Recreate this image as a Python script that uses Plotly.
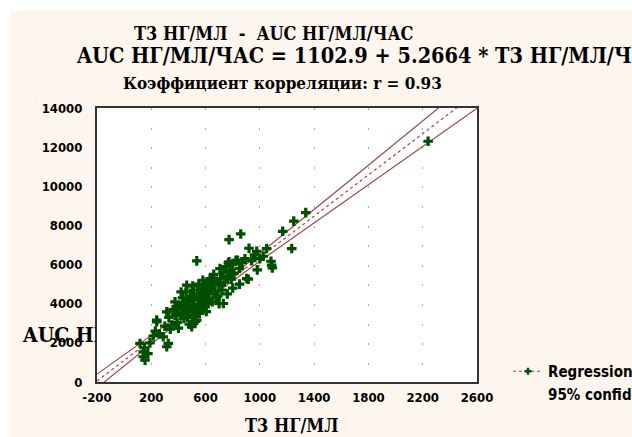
import numpy as np
import plotly.graph_objects as go

# ---------------- data ----------------
t3 = [154, 141, 141, 175, 117, 150, 190, 215, 240, 240, 230, 260, 288, 314, 300, 314,
      330, 350, 360, 375, 380, 390, 400, 410, 420, 430, 440, 450, 455, 461, 470, 475,
      480, 490, 498, 500, 505, 510, 515, 520, 525, 535, 535, 540, 545, 550, 555, 560,
      565, 570, 575, 580, 585, 590, 595, 600, 605, 608, 615, 620, 625, 633, 640, 645,
      650, 655, 660, 670, 680, 690, 700, 706, 710, 720, 730, 740, 750, 760, 768, 773,
      773, 780, 790, 800, 810, 824, 836, 850, 859, 870, 890, 915, 920, 940, 960, 977,
      981, 1000, 1025, 1050, 1082, 1092, 1168, 1235, 1250, 1338, 2240,
      325, 340, 420, 445, 465, 485, 530, 560, 590, 620, 650, 700, 731, 760, 800, 850,
      903, 1087, 395, 435, 505, 575, 610, 680]
auc = [1120, 1290, 1545, 1450, 1970, 1750, 2000, 2350, 3077, 3160, 2600, 2450, 2310, 1800, 2850, 3587,
       3300, 2900, 3700, 4096, 3400, 3050, 2750, 3900, 3500, 4300, 3250, 3800, 4600, 4947, 4100, 3600,
       2950, 4400, 2822, 3900, 3400, 4700, 4200, 3700, 3100, 6188, 3162, 4500, 3950, 5000, 3500, 4300,
       4800, 3800, 4100, 5200, 4550, 3900, 4300, 4700, 3600, 4896, 4200, 5100, 4500, 5287, 4800, 5287,
       4100, 4950, 5500, 4600, 5150, 4400, 5000, 5797, 5300, 4700, 5600, 5100, 5900, 5400, 6086, 6137,
       7276, 5700, 5250, 6000, 5550, 6222, 6222, 5800, 7564, 6100, 6300, 5253, 6834, 6200, 6500, 6681,
       5729, 6300, 6426, 6818, 6170, 5831, 7700, 6818, 8220, 8654, 12300,
       1970, 2700, 4600, 4000, 3300, 4250, 3600, 3950, 4650, 4000, 5200, 4000, 4011, 4500, 4800, 5000,
       5287, 5967, 3800, 3700, 4900, 4400, 5000, 4300]

INTERCEPT = 1102.9
SLOPE = 5.2664
R_VALUE = 0.93
T_CRIT = 1.98

x_ticks = [-200, 200, 600, 1000, 1400, 1800, 2200, 2600]
y_ticks = [0, 2000, 4000, 6000, 8000, 10000, 12000, 14000]

title1 = "Т3 НГ/МЛ  -  AUC НГ/МЛ/ЧАС"
title2 = "AUC НГ/МЛ/ЧАС = 1102.9 + 5.2664 * Т3 НГ/МЛ/Ч"
title3 = "Коэффициент корреляции: r = 0.93"
x_title = "Т3 НГ/МЛ"
y_title = "AUC НГ/МЛ/ЧАС"
legend_names = ["Regression", "95% confidence"]

# ---------------- regression & confidence band ----------------
xa = np.array(t3, float)
ya = np.array(auc, float)
n = len(xa)
resid = ya - (INTERCEPT + SLOPE * xa)
s = np.sqrt((resid ** 2).sum() / (n - 2))
xbar = xa.mean()
sxx = ((xa - xbar) ** 2).sum()
xg = np.linspace(x_ticks[0], x_ticks[-1], 400)
yfit = INTERCEPT + SLOPE * xg
hw = T_CRIT * s * np.sqrt(1.0 / n + (xg - xbar) ** 2 / sxx)

# ---------------- layout geometry ----------------
W, H = 632, 437
L, R, T, B = 97, 155, 108, 55
PW, PH = W - L - R, H - T - B
CREAM = "#FDF6EE"
GREEN = "#004f00"
BROWN = "#9a4848"
SERIF = "DejaVu Serif Condensed, DejaVu Serif, Liberation Serif, serif"
SANS = "Liberation Sans Narrow, DejaVu Sans Condensed, Liberation Sans, Arial, sans-serif"

def px(xp):
    return (xp - L) / PW

def py(yp):
    return (H - B - yp) / PH

fig = go.Figure()
fig.add_trace(go.Scatter(x=xg, y=yfit + hw, mode="lines", line=dict(color=BROWN, width=1.2),
                         showlegend=False, hoverinfo="skip"))
fig.add_trace(go.Scatter(x=xg, y=yfit - hw, mode="lines", line=dict(color=BROWN, width=1.2),
                         showlegend=False, hoverinfo="skip"))
fig.add_trace(go.Scatter(x=xg, y=yfit, mode="lines", line=dict(color=BROWN, width=1.2, dash="dot"),
                         showlegend=False, hoverinfo="skip"))
fig.add_trace(go.Scatter(x=t3, y=auc, mode="markers",
                         marker=dict(symbol="cross", size=8, color=GREEN, line=dict(width=0)),
                         showlegend=False))
# legend entries
fig.add_trace(go.Scatter(x=[None], y=[None], mode="lines+markers", name=legend_names[0],
                         marker=dict(symbol="cross", size=6, color=GREEN),
                         line=dict(color=BROWN, width=1.2, dash="dot")))
fig.add_trace(go.Scatter(x=[None], y=[None], mode="lines", name=legend_names[1],
                         line=dict(color="rgba(0,0,0,0)", width=1)))

shapes = [
    dict(type="rect", xref="paper", yref="paper", x0=px(0), x1=px(W), y0=py(11), y1=py(0),
         fillcolor="white", line=dict(width=0), layer="below"),
    dict(type="rect", xref="paper", yref="paper", x0=px(0), x1=px(10), y0=py(H), y1=py(0),
         fillcolor="white", line=dict(width=0), layer="below"),
]

def tf(size):
    return dict(family=SERIF, size=size, color="black", weight="bold")

annotations = [
    dict(text=title1, x=px(274), y=py(33), xref="paper", yref="paper", showarrow=False,
         xanchor="center", yanchor="middle", font=tf(18)),
    dict(text=title2, x=px(74), y=py(55), xref="paper", yref="paper", showarrow=False,
         xanchor="left", yanchor="middle", font=tf(21.5)),
    dict(text=title3, x=px(282), y=py(83), xref="paper", yref="paper", showarrow=False,
         xanchor="center", yanchor="middle", font=tf(17)),
    dict(text=x_title, x=px(292), y=py(425), xref="paper", yref="paper", showarrow=False,
         xanchor="center", yanchor="middle", font=tf(18)),
    dict(text=y_title, x=px(20), y=py(334), xref="paper", yref="paper", showarrow=False,
         xanchor="left", yanchor="middle", width=74, align="left", font=tf(21)),
]

fig.update_layout(
    width=W, height=H,
    margin=dict(l=L, r=R, t=T, b=B, pad=0, autoexpand=False),
    paper_bgcolor=CREAM, plot_bgcolor="white",
    shapes=shapes, annotations=annotations,
    showlegend=True,
    legend=dict(x=px(508), y=py(355), xanchor="left", yanchor="top",
                bgcolor="rgba(0,0,0,0)", font=dict(family=SANS, size=15, color="black", weight="bold"),
                itemwidth=30, tracegroupgap=0),
    xaxis=dict(range=[x_ticks[0], x_ticks[-1]], tickvals=x_ticks, ticktext=[str(v) for v in x_ticks],
               showgrid=True, gridcolor="#a8a8a8", griddash="2px,17.6px", gridwidth=1,
               zeroline=False, showline=True, linecolor="#333333", linewidth=2, mirror=True,
               ticks="", ticklabelstandoff=2,
               tickfont=dict(family=SANS, size=13, color="black", weight="bold")),
    yaxis=dict(range=[y_ticks[0], y_ticks[-1]], tickvals=y_ticks, ticktext=[str(v) for v in y_ticks],
               showgrid=False, zeroline=False, showline=True, linecolor="#333333", linewidth=2,
               mirror=True, ticks="", ticklabelstandoff=10,
               tickfont=dict(family=SANS, size=13, color="black", weight="bold")),
)

fig.write_html("out.html", config={"displayModeBar": False},
               post_script="document.body.style.margin='0px';")
